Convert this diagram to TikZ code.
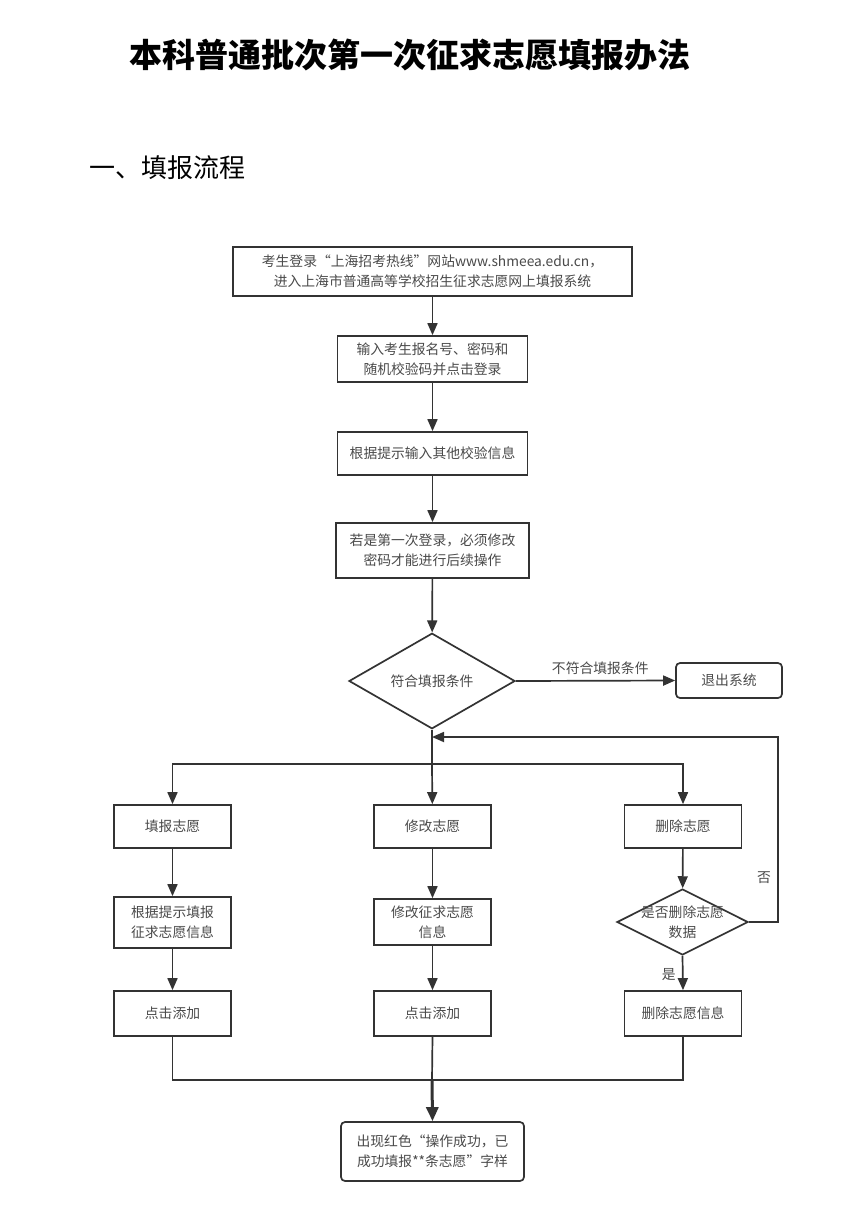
\documentclass[tikz,border=0pt]{standalone}
\usepackage{fontspec}
\usepackage{tikz}
\usetikzlibrary{shapes.geometric,arrows.meta,positioning}
\newfontfamily\cjk{Noto Sans CJK SC}
\definecolor{linec}{HTML}{333333}
\definecolor{textc}{HTML}{4A4A4A}
\tikzset{%
  stepbox/.style={rectangle,draw=linec,line width=1.7pt,inner sep=0pt,
    align=center,text=textc,font=\cjk\fontsize{13.8}{20}\selectfont},
  endbox/.style={stepbox,rounded corners=4pt},
  decision/.style={diamond,draw=linec,line width=1.7pt,inner sep=0pt,
    align=center,text=textc,font=\cjk\fontsize{13.8}{20}\selectfont},
  flow/.style={draw=linec,line width=1.7pt,-{Triangle[length=12pt,width=10pt]}},
  plain/.style={draw=linec,line width=1.7pt},
  note/.style={text=textc,font=\cjk\fontsize{13.8}{20}\selectfont}
}
\begin{document}
\begin{tikzpicture}[x=1pt,y=-1pt]
  \useasboundingbox[fill=white] (0,0) rectangle (865,1208);

  % headings
  \node (title) at (410,55) {\cjk\bfseries\fontsize{33}{40}\selectfont 本科普通批次第一次征求志愿填报办法};
  \node[anchor=west] (part) at (86,168) {\cjk\fontsize{26}{30}\selectfont 一、填报流程};

  % main column
  \node[stepbox,minimum width=399pt,minimum height=49pt] (login) at (432.5,271.5)
    {考生登录“上海招考热线”网站www.shmeea.edu.cn，\\进入上海市普通高等学校招生征求志愿网上填报系统};
  \node[stepbox,minimum width=190pt,minimum height=46pt] (enter) at (432.5,359)
    {输入考生报名号、密码和\\随机校验码并点击登录};
  \node[stepbox,minimum width=190pt,minimum height=43pt] (check) at (432.5,453.5)
    {根据提示输入其他校验信息};
  \node[stepbox,minimum width=193pt,minimum height=55pt] (pwd) at (432.5,550.5)
    {若是第一次登录，必须修改\\密码才能进行后续操作};
  \node[decision,minimum width=166pt,minimum height=85pt] (ok) at (432,681) {符合填报条件};
  \node[endbox,minimum width=106pt,minimum height=35pt] (quit) at (729,680.5) {退出系统};

  \coordinate (split) at (432,764);
  \coordinate (back) at (432,737);
  \coordinate (corner) at (778,737);

  % three branches
  \node[stepbox,minimum width=117pt,minimum height=43pt] (fill) at (172.5,826.5) {填报志愿};
  \node[stepbox,minimum width=117pt,minimum height=43pt] (edit) at (432.5,826.5) {修改志愿};
  \node[stepbox,minimum width=117pt,minimum height=43pt] (del) at (683,826.5) {删除志愿};

  \node[stepbox,minimum width=117pt,minimum height=51pt] (fillinfo) at (172.5,922.5)
    {根据提示填报\\征求志愿信息};
  \node[stepbox,minimum width=117pt,minimum height=46pt] (editinfo) at (432.5,922)
    {修改征求志愿\\信息};
  \node[decision,minimum width=131pt,minimum height=66pt,
    label={[note,align=center]center:是否删除志愿\\数据}] (sure) at (682.5,922) {};

  \node[stepbox,minimum width=117pt,minimum height=45pt] (add) at (172.5,1013.5) {点击添加};
  \node[stepbox,minimum width=117pt,minimum height=45pt] (add2) at (432.5,1013.5) {点击添加};
  \node[stepbox,minimum width=117pt,minimum height=45pt] (delinfo) at (683,1013.5) {删除志愿信息};

  \coordinate (merge) at (432,1080);
  \node[endbox,minimum width=183pt,minimum height=59pt] (done) at (432.5,1151.5)
    {出现红色“操作成功，已\\成功填报**条志愿”字样};

  % connectors
  \draw[flow] (login) -- (enter);
  \draw[flow] (enter) -- (check);
  \draw[flow] (check) -- (pwd);
  \draw[flow] (pwd) -- (ok);
  \draw[flow] (ok.east) -- node[note,above=2pt,pos=0.53] {不符合填报条件} (quit.west);
  \draw[plain] (ok.south) -- (split);
  \draw[flow] (split) -- (edit);
  \draw[flow] (split) -| (fill.north);
  \draw[flow] (split) -| (del.north);

  \draw[flow] (fill) -- (fillinfo);
  \draw[flow] (fillinfo) -- (add);
  \draw[flow] (edit) -- (editinfo);
  \draw[flow] (editinfo) -- (add2);
  \draw[flow] (del) -- (sure);
  \draw[flow] (sure.south) -- node[note,left=3pt,pos=0.55] {是} (delinfo.north);
  \draw[flow] (sure.east) -| node[note,pos=0.62,left=3pt] {否} (corner) -- (back);

  \draw[plain] (add.south) |- (merge);
  \draw[plain] (delinfo.south) |- (merge);
  \draw[plain] (add2.south) -- (merge);
  \draw[flow,line width=3pt,-{Triangle[length=14pt,width=12pt]}] (merge) -- (done.north);
\end{tikzpicture}
\end{document}
